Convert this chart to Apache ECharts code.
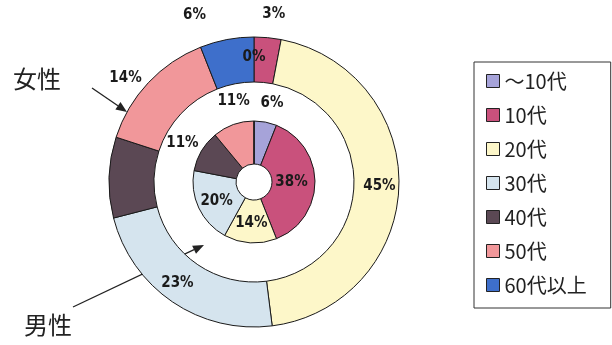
<!DOCTYPE html>
<html>
<head>
<meta charset="utf-8">
<script src="https://cdn.jsdelivr.net/npm/echarts@6/dist/echarts.min.js"></script>
<style>
html,body{margin:0;padding:0;background:#fff;}
#chart{width:612px;height:345px;}
</style>
</head>
<body>
<div id="chart"></div>
<script>
// ---- data ----
var categories = ['〜10代', '10代', '20代', '30代', '40代', '50代', '60代以上'];
var femaleValues = [0, 3, 45, 23, 9, 14, 6];   // outer ring (女性)
var maleValues = [6, 38, 14, 20, 11, 11, 0];   // inner ring (男性)
var ringNames = ['女性', '男性'];

// ---- styles ----
var colors = ['#a6a3d9', '#c9517c', '#fdf7c9', '#d5e4ee', '#5b4854', '#f1979a', '#3e6fcb'];
var femaleLabelShow = [true, true, true, true, false, true, true];
var maleLabelShow = [true, true, true, true, true, true, false];
// label nudges [dx, dy] from the in-slice position
var femaleLabelShift = [[0, 1], [8, -43], [0, 0], [-6, -3], [0, 0], [-37, -18], [-36, -44]];
var maleLabelShift = [[10, -37], [-5, 0], [0, -1], [1, 1], [-35, -17], [-6, -41], [0, 0]];

var pctFont = 'Liberation Sans Narrow, DejaVu Sans Condensed, Arial Narrow, sans-serif';

function buildData(values, show) {
  return categories.map(function (c, i) {
    return { name: c, value: values[i], label: { show: show[i] } };
  });
}

function arrow(x1, y1, x2, y2) {
  var dx = x2 - x1, dy = y2 - y1;
  var len = Math.sqrt(dx * dx + dy * dy);
  var ux = dx / len, uy = dy / len;
  var hl = 11, hw = 4.5;
  var bx = x2 - ux * hl, by = y2 - uy * hl;
  return [
    { type: 'line', shape: { x1: x1, y1: y1, x2: bx, y2: by }, style: { stroke: '#222', lineWidth: 1.3 } },
    { type: 'polygon', shape: { points: [[x2, y2], [bx - uy * hw, by + ux * hw], [bx + uy * hw, by - ux * hw]] }, style: { fill: '#222' } }
  ];
}

var chart = echarts.init(document.getElementById('chart'), null, { renderer: 'canvas' });

var commonLabel = {
  position: 'inside',
  formatter: '{c}%',
  color: '#1a1a1a',
  fontSize: 15,
  fontWeight: 'bold',
  fontFamily: pctFont
};

var option = {
  animation: false,
  backgroundColor: '#ffffff',
  color: colors,
  legend: {
    orient: 'vertical',
    left: 474,
    top: 62,
    padding: [9, 24, 13, 12],
    itemWidth: 13,
    itemHeight: 13,
    itemGap: 14,
    icon: 'rect',
    borderColor: '#333',
    borderWidth: 1,
    borderRadius: 0,
    itemStyle: { borderColor: '#222', borderWidth: 1 },
    textStyle: { fontSize: 20, lineHeight: 20, color: '#222', fontFamily: 'Noto Sans CJK JP, sans-serif' },
    data: categories
  },
  series: [
    {
      name: ringNames[0],
      type: 'pie',
      center: [254, 182],
      radius: [100, 145],
      startAngle: 90,
      clockwise: true,
      avoidLabelOverlap: false,
      itemStyle: { borderColor: '#1a1a1a', borderWidth: 1 },
      label: commonLabel,
      labelLine: { show: false },
      labelLayout: function (p) {
        var s = femaleLabelShift[p.dataIndex];
        return { dx: s[0], dy: s[1] };
      },
      emphasis: { disabled: true },
      data: buildData(femaleValues, femaleLabelShow)
    },
    {
      name: ringNames[1],
      type: 'pie',
      center: [254, 182],
      radius: [18, 61],
      startAngle: 90,
      clockwise: true,
      avoidLabelOverlap: false,
      itemStyle: { borderColor: '#1a1a1a', borderWidth: 1 },
      label: commonLabel,
      labelLine: { show: false },
      labelLayout: function (p) {
        var s = maleLabelShift[p.dataIndex];
        return { dx: s[0], dy: s[1] };
      },
      emphasis: { disabled: true },
      data: buildData(maleValues, maleLabelShow)
    }
  ],
  graphic: [
    { type: 'text', x: 37, y: 79, style: { text: ringNames[0], fontSize: 24, fontFamily: 'Noto Sans CJK JP, sans-serif', fill: '#222', align: 'center', verticalAlign: 'middle' } },
    { type: 'text', x: 48, y: 325, style: { text: ringNames[1], fontSize: 24, fontFamily: 'Noto Sans CJK JP, sans-serif', fill: '#222', align: 'center', verticalAlign: 'middle' } }
  ].concat(arrow(92, 88, 127, 112)).concat(arrow(73, 307, 204, 245))
};

chart.setOption(option);
</script>
</body>
</html>
